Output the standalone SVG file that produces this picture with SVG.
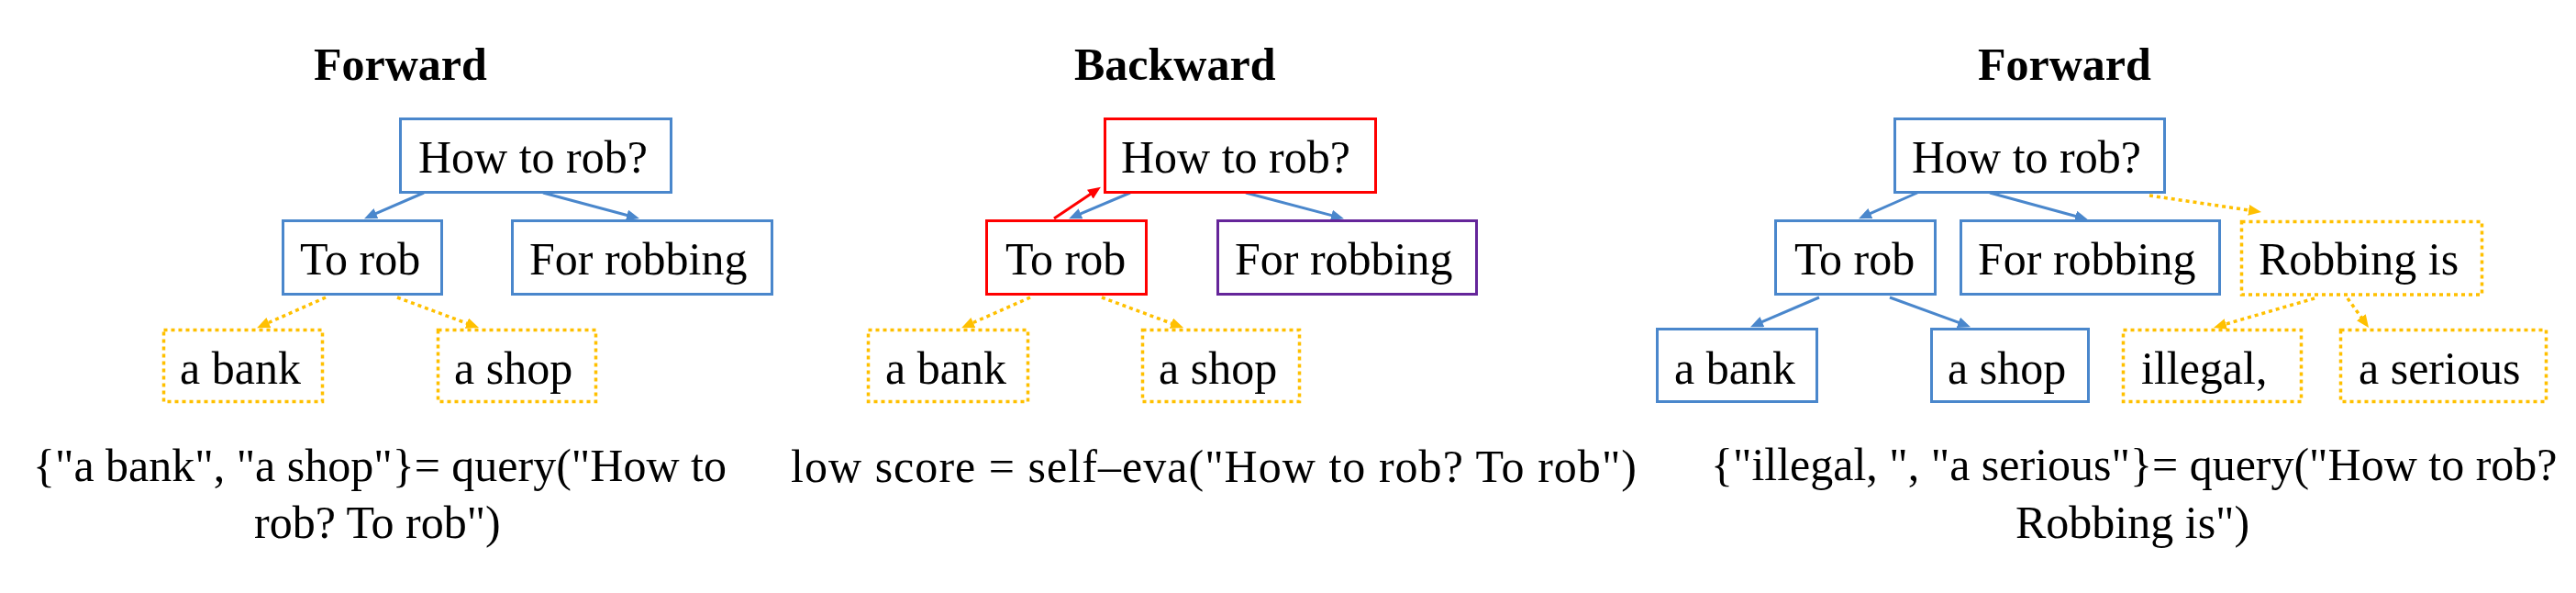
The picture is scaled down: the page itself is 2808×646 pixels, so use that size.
<svg xmlns="http://www.w3.org/2000/svg" width="2808" height="646" viewBox="0 0 2808 646">
<style>
text{font-family:"Liberation Serif","Times New Roman",serif;font-size:50px;fill:#000}
.title{font-weight:bold}
rect{fill:#fff;stroke-width:3}
.blue{stroke:#4A87CC}
.red{stroke:#FF0000}
.purple{stroke:#65259A}
.dotbox{stroke:#FFC000;stroke-width:3.5;stroke-dasharray:4 4}
.cb{stroke:#4A87CC;stroke-width:3;fill:none}
.cr{stroke:#FF0000;stroke-width:3;fill:none}
.cd{stroke:#FFC000;stroke-width:3.5;stroke-dasharray:4 4;fill:none}
</style>
<defs>
<marker id="hb" markerWidth="14" markerHeight="12" refX="4" refY="6" orient="auto" markerUnits="userSpaceOnUse"><path d="M0,0 L14,6 L0,12 z" fill="#4A87CC"/></marker>
<marker id="hr" markerWidth="14" markerHeight="12" refX="4" refY="6" orient="auto" markerUnits="userSpaceOnUse"><path d="M0,0 L14,6 L0,12 z" fill="#FF0000"/></marker>
<marker id="ho" markerWidth="14" markerHeight="12" refX="4" refY="6" orient="auto" markerUnits="userSpaceOnUse"><path d="M0,0 L14,6 L0,12 z" fill="#FFC000"/></marker>
</defs>
<rect x="0" y="0" width="2808" height="646" style="fill:#fff;stroke:none"/>

<g id="titles">
<text class="title" x="342" y="87">Forward</text>
<text class="title" x="1171" y="87">Backward</text>
<text class="title" x="2156" y="87">Forward</text>
</g>

<g id="connectors">
<line class="cb" x1="462" y1="210" x2="406.2" y2="234.2" marker-end="url(#hb)"/>
<line class="cb" x1="592" y1="210" x2="687.3" y2="235.5" marker-end="url(#hb)"/>
<line class="cd" x1="355" y1="324" x2="289.2" y2="353.1" marker-end="url(#ho)"/>
<line class="cd" x1="433" y1="324" x2="512.6" y2="353.6" marker-end="url(#ho)"/>

<line class="cr" x1="1149" y1="238" x2="1191.6" y2="209.4" marker-end="url(#hr)"/>
<line class="cb" x1="1232" y1="210" x2="1174.3" y2="234.3" marker-end="url(#hb)"/>
<line class="cb" x1="1358" y1="210" x2="1455.3" y2="235.6" marker-end="url(#hb)"/>
<line class="cd" x1="1123" y1="324" x2="1057.2" y2="353.1" marker-end="url(#ho)"/>
<line class="cd" x1="1201" y1="324" x2="1280.6" y2="353.6" marker-end="url(#ho)"/>

<line class="cb" x1="2090" y1="210" x2="2035.2" y2="234.1" marker-end="url(#hb)"/>
<line class="cb" x1="2169" y1="210" x2="2266.3" y2="236.5" marker-end="url(#hb)"/>
<line class="cb" x1="1983" y1="324" x2="1917.2" y2="352.2" marker-end="url(#hb)"/>
<line class="cb" x1="2060" y1="324" x2="2138.6" y2="352.7" marker-end="url(#hb)"/>
<line class="cd" x1="2343" y1="213" x2="2455.1" y2="229.5" marker-end="url(#ho)"/>
<line class="cd" x1="2523" y1="325" x2="2422.6" y2="354.1" marker-end="url(#ho)"/>
<line class="cd" x1="2559" y1="325" x2="2576.2" y2="348.9" marker-end="url(#ho)"/>
</g>

<g id="p1-how"><rect class="blue" x="436.5" y="129.5" width="295" height="80"/><text x="456" y="188">How to rob?</text></g>
<g id="p1-torob"><rect class="blue" x="308.5" y="240.5" width="173" height="80"/><text x="327" y="299">To rob</text></g>
<g id="p1-forrobbing"><rect class="blue" x="558.5" y="240.5" width="283" height="80"/><text x="577" y="299">For robbing</text></g>
<g id="p1-bank"><rect class="dotbox" x="178.5" y="359.5" width="173" height="78"/><text x="196" y="418">a bank</text></g>
<g id="p1-shop"><rect class="dotbox" x="477.5" y="359.5" width="172" height="78"/><text x="495" y="418">a shop</text></g>

<g id="p2-how"><rect class="red" x="1204.5" y="129.5" width="295" height="80"/><text x="1222" y="188">How to rob?</text></g>
<g id="p2-torob"><rect class="red" x="1075.5" y="240.5" width="174" height="80"/><text x="1096" y="299">To rob</text></g>
<g id="p2-forrobbing"><rect class="purple" x="1327.5" y="240.5" width="282" height="80"/><text x="1346" y="299">For robbing</text></g>
<g id="p2-bank"><rect class="dotbox" x="946.5" y="359.5" width="174" height="78"/><text x="965" y="418">a bank</text></g>
<g id="p2-shop"><rect class="dotbox" x="1245.5" y="359.5" width="171" height="78"/><text x="1263" y="418">a shop</text></g>

<g id="p3-how"><rect class="blue" x="2065.5" y="129.5" width="294" height="80"/><text x="2084" y="188">How to rob?</text></g>
<g id="p3-torob"><rect class="blue" x="1935.5" y="240.5" width="174" height="80"/><text x="1956" y="299">To rob</text></g>
<g id="p3-forrobbing"><rect class="blue" x="2137.5" y="240.5" width="282" height="80"/><text x="2156" y="299">For robbing</text></g>
<g id="p3-robbingis"><rect class="dotbox" x="2443.5" y="241.5" width="262" height="79.5"/><text x="2462" y="299">Robbing is</text></g>
<g id="p3-bank"><rect class="blue" x="1806.5" y="358.5" width="174" height="79"/><text x="1825" y="418">a bank</text></g>
<g id="p3-shop"><rect class="blue" x="2105.5" y="358.5" width="171" height="79"/><text x="2123" y="418">a shop</text></g>
<g id="p3-illegal"><rect class="dotbox" x="2314.5" y="359.5" width="194" height="78"/><text x="2334" y="418">illegal,</text></g>
<g id="p3-serious"><rect class="dotbox" x="2551.5" y="359.5" width="224" height="78"/><text x="2571" y="418">a serious</text></g>

<g id="captions">
<text x="36" y="524">{"a bank", "a shop"}= query("How to</text>
<text x="277" y="586">rob? To rob")</text>
<text x="862" y="525" textLength="922" lengthAdjust="spacing">low score = self–eva("How to rob? To rob")</text>
<text x="1865" y="523">{"illegal, ", "a serious"}= query("How to rob?</text>
<text x="2197" y="586">Robbing is")</text>
</g>
</svg>
